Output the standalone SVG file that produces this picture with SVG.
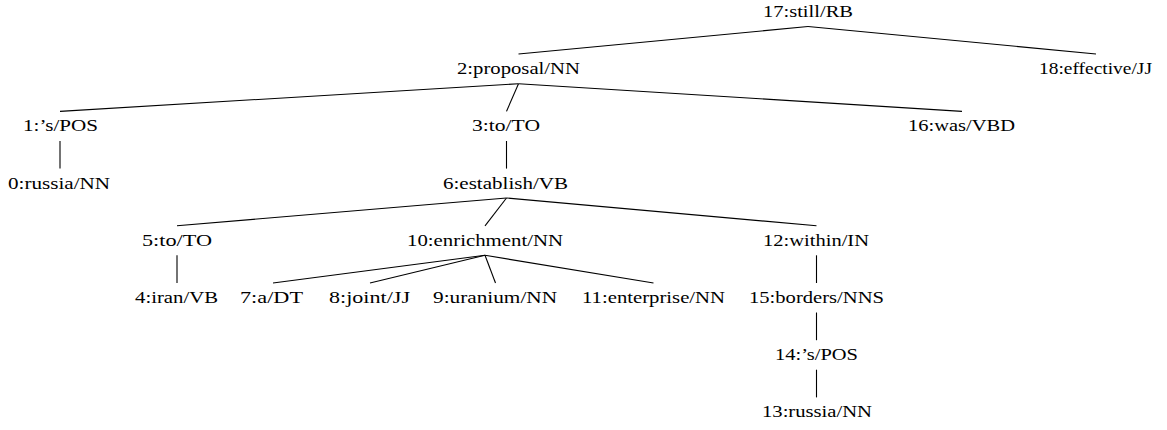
<svg xmlns="http://www.w3.org/2000/svg" width="1167" height="430" viewBox="0 0 1167 430">
  <style>
    .lbl { font-family: 'Liberation Serif', 'Times New Roman', serif; font-size: 17.5px; fill: #000; text-anchor: middle; }
    .edge { stroke: #000; stroke-width: 1.1; fill: none; stroke-linecap: butt; }
  </style>
  <rect width="1167" height="430" fill="#fff"/>

  <!-- dependency edges: parent bottom to child top -->
  <g id="connectors">
    <line class="edge" x1="808" y1="26.5" x2="518.5" y2="54"/>
    <line class="edge" x1="808" y1="26.5" x2="1096" y2="54"/>
    <line class="edge" x1="518.5" y1="83.7" x2="60" y2="111.4"/>
    <line class="edge" x1="518.5" y1="83.7" x2="506.5" y2="111.4"/>
    <line class="edge" x1="518.5" y1="83.7" x2="962" y2="111.4"/>
    <line class="edge" x1="60" y1="141" x2="60" y2="168.6"/>
    <line class="edge" x1="506.5" y1="141" x2="506.5" y2="168.6"/>
    <line class="edge" x1="506.5" y1="198" x2="177" y2="225.8"/>
    <line class="edge" x1="506.5" y1="198" x2="485" y2="225.8"/>
    <line class="edge" x1="506.5" y1="198" x2="816.5" y2="225.8"/>
    <line class="edge" x1="177" y1="255.3" x2="177" y2="283"/>
    <line class="edge" x1="485" y1="255.3" x2="273" y2="283"/>
    <line class="edge" x1="485" y1="255.3" x2="370" y2="283"/>
    <line class="edge" x1="485" y1="255.3" x2="495.5" y2="283"/>
    <line class="edge" x1="485" y1="255.3" x2="653.5" y2="283"/>
    <line class="edge" x1="816.5" y1="255.3" x2="816.5" y2="283"/>
    <line class="edge" x1="816.5" y1="312.5" x2="816.5" y2="340.2"/>
    <line class="edge" x1="816.5" y1="369.7" x2="816.5" y2="397.4"/>
  </g>

  <!-- tokens -->
  <g id="n17"><text class="lbl" x="808" y="17" textLength="90" lengthAdjust="spacingAndGlyphs">17:still/RB</text></g>
  <g id="n2"><text class="lbl" x="518.5" y="74.2" textLength="123" lengthAdjust="spacingAndGlyphs">2:proposal/NN</text></g>
  <g id="n18"><text class="lbl" x="1095.5" y="74.2" textLength="113" lengthAdjust="spacingAndGlyphs">18:effective/JJ</text></g>
  <g id="n1"><text class="lbl" x="60.5" y="131.4" textLength="75" lengthAdjust="spacingAndGlyphs">1:’s/POS</text></g>
  <g id="n3"><text class="lbl" x="506" y="131.4" textLength="68" lengthAdjust="spacingAndGlyphs">3:to/TO</text></g>
  <g id="n16"><text class="lbl" x="961.5" y="131.4" textLength="107" lengthAdjust="spacingAndGlyphs">16:was/VBD</text></g>
  <g id="n0"><text class="lbl" x="59" y="188.6" textLength="102" lengthAdjust="spacingAndGlyphs">0:russia/NN</text></g>
  <g id="n6"><text class="lbl" x="505.5" y="188.6" textLength="125" lengthAdjust="spacingAndGlyphs">6:establish/VB</text></g>
  <g id="n5"><text class="lbl" x="177" y="245.8" textLength="70" lengthAdjust="spacingAndGlyphs">5:to/TO</text></g>
  <g id="n10"><text class="lbl" x="485" y="245.8" textLength="156" lengthAdjust="spacingAndGlyphs">10:enrichment/NN</text></g>
  <g id="n12"><text class="lbl" x="816" y="245.8" textLength="106" lengthAdjust="spacingAndGlyphs">12:within/IN</text></g>
  <g id="n4"><text class="lbl" x="176.5" y="303" textLength="83" lengthAdjust="spacingAndGlyphs">4:iran/VB</text></g>
  <g id="n7"><text class="lbl" x="271.5" y="303" textLength="63" lengthAdjust="spacingAndGlyphs">7:a/DT</text></g>
  <g id="n8"><text class="lbl" x="369.5" y="303" textLength="81" lengthAdjust="spacingAndGlyphs">8:joint/JJ</text></g>
  <g id="n9"><text class="lbl" x="495" y="303" textLength="124" lengthAdjust="spacingAndGlyphs">9:uranium/NN</text></g>
  <g id="n11"><text class="lbl" x="653.5" y="303" textLength="143" lengthAdjust="spacingAndGlyphs">11:enterprise/NN</text></g>
  <g id="n15"><text class="lbl" x="816.5" y="303" textLength="135" lengthAdjust="spacingAndGlyphs">15:borders/NNS</text></g>
  <g id="n14"><text class="lbl" x="816.5" y="360.2" textLength="83" lengthAdjust="spacingAndGlyphs">14:’s/POS</text></g>
  <g id="n13"><text class="lbl" x="817" y="417.4" textLength="110" lengthAdjust="spacingAndGlyphs">13:russia/NN</text></g>
</svg>
